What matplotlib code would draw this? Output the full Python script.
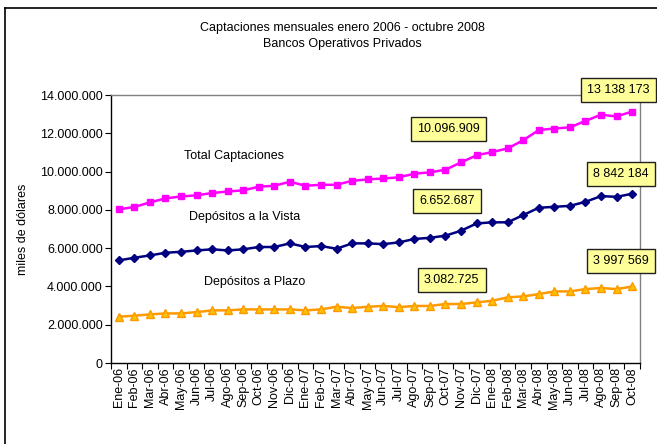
import matplotlib.pyplot as plt
from matplotlib.ticker import FuncFormatter, FixedLocator
from matplotlib.lines import Line2D

plt.rcParams['font.family'] = ['Liberation Sans', 'DejaVu Sans']

meses = ["Ene-06", "Feb-06", "Mar-06", "Abr-06", "May-06", "Jun-06", "Jul-06", "Ago-06",
         "Sep-06", "Oct-06", "Nov-06", "Dic-06", "Ene-07", "Feb-07", "Mar-07", "Abr-07",
         "May-07", "Jun-07", "Jul-07", "Ago-07", "Sep-07", "Oct-07", "Nov-07", "Dic-07",
         "Ene-08", "Feb-08", "Mar-08", "Abr-08", "May-08", "Jun-08", "Jul-08", "Ago-08",
         "Sep-08", "Oct-08"]

# miles de dolares
total = [8030000, 8150000, 8390000, 8600000, 8700000, 8760000, 8880000, 8960000,
         9020000, 9210000, 9260000, 9470000, 9260000, 9310000, 9310000, 9520000,
         9590000, 9640000, 9700000, 9890000, 9960000, 10096909, 10480000, 10850000,
         11020000, 11210000, 11640000, 12170000, 12250000, 12310000, 12650000, 12970000,
         12880000, 13138173]

vista = [5360000, 5500000, 5620000, 5760000, 5810000, 5880000, 5940000, 5880000,
         5940000, 6060000, 6060000, 6250000, 6060000, 6110000, 5970000, 6250000,
         6250000, 6210000, 6300000, 6480000, 6540000, 6652687, 6910000, 7290000,
         7350000, 7350000, 7730000, 8110000, 8160000, 8210000, 8420000, 8720000,
         8680000, 8842184]

plazo = [2420000, 2470000, 2540000, 2590000, 2590000, 2660000, 2750000, 2750000,
         2800000, 2800000, 2800000, 2800000, 2750000, 2800000, 2940000, 2870000,
         2940000, 2980000, 2920000, 2980000, 2980000, 3082725, 3080000, 3170000,
         3250000, 3430000, 3480000, 3600000, 3740000, 3740000, 3860000, 3920000,
         3860000, 3997569]

x = list(range(len(meses)))

fig = plt.figure(figsize=(6.57, 4.44), dpi=100)
ax = fig.add_axes([0.169, 0.1824, 0.805, 0.6036])

ax.plot(x, total, color="#FF00FF", linewidth=1.8, marker="s", markersize=4.5)
ax.plot(x, vista, color="#000080", linewidth=1.8, marker="D", markersize=4)
ax.plot(x, plazo, color="#FF9900", linewidth=1.8, marker="^", markersize=6,
        markerfacecolor="#FFC000", markeredgecolor="#FF9900")

ax.set_xlim(-0.5, len(meses) - 0.5)
ax.set_ylim(0, 14000000)
ax.set_yticks(range(0, 14000001, 2000000))
ax.yaxis.set_major_formatter(FuncFormatter(lambda v, p: f"{v:,.0f}".replace(",", ".")))
ax.set_xticks(x)
ax.set_xticklabels(meses, rotation=90)
ax.tick_params(axis="x", which="major", length=0, pad=3, labelsize=9)
ax.xaxis.set_minor_locator(FixedLocator([i - 0.5 for i in range(len(meses) + 1)]))
ax.tick_params(axis="x", which="minor", length=4, width=0.8)
ax.tick_params(axis="y", length=4, width=0.8, labelsize=9, pad=2)

for s in ["top", "right"]:
    ax.spines[s].set_color("#808080")
    ax.spines[s].set_linewidth(1)
for s in ["left", "bottom"]:
    ax.spines[s].set_color("black")
    ax.spines[s].set_linewidth(1)

ax.set_ylabel("miles de dólares", fontsize=9, labelpad=8)

fig.text(0.521, 0.937, "Captaciones mensuales enero 2006 - octubre 2008",
         ha="center", va="center", fontsize=9)
fig.text(0.521, 0.901, "Bancos Operativos Privados", ha="center", va="center", fontsize=9)

# nombres de series
ax.text(7.4, 10810000, "Total Captaciones", ha="center", va="center", fontsize=9)
ax.text(8.1, 7620000, "Depósitos a la Vista", ha="center", va="center", fontsize=9)
ax.text(8.7, 4230000, "Depósitos a Plazo", ha="center", va="center", fontsize=9)

# cajas de valores
box = dict(boxstyle="square,pad=0.5", facecolor="#FFFF99", edgecolor="#202020", linewidth=1.0)
etiquetas = [
    (32.1, 14260000, "13 138 173"),
    (21.2, 12220000, "10.096.909"),
    (32.3, 9870000, "8 842 184"),
    (21.1, 8460000, "6.652.687"),
    (32.3, 5330000, "3 997 569"),
    (21.4, 4330000, "3.082.725"),
]
for ex, ey, txt in etiquetas:
    ax.text(ex, ey, txt, ha="center", va="center", fontsize=9, bbox=box,
            clip_on=False, zorder=6)

# borde del grafico
fig.add_artist(Line2D([5 / 657, 1.0], [1 - 8 / 444, 1 - 8 / 444], color="black", linewidth=1.2))
fig.add_artist(Line2D([5 / 657, 5 / 657], [0.0, 1 - 8 / 444], color="black", linewidth=1.2))

fig.savefig("out.png", dpi=100)
